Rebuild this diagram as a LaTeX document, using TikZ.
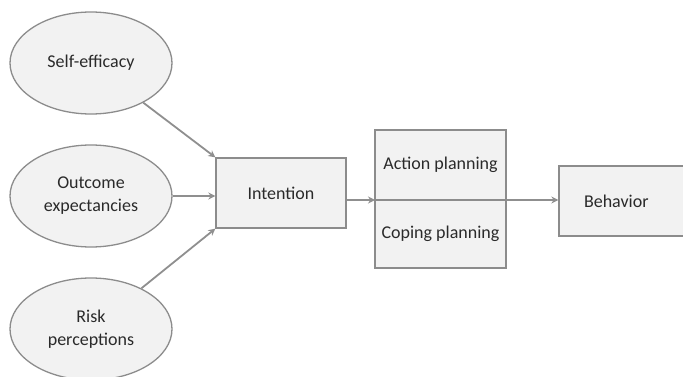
\documentclass[tikz,border=0pt]{standalone}
\usepackage{fontspec}
\setmainfont{Carlito}
\usetikzlibrary{shapes.geometric,arrows.meta}
\definecolor{boxfill}{HTML}{F2F2F2}
\definecolor{boxline}{HTML}{8C8C8C}
\definecolor{arrowline}{HTML}{8F8F8F}
\definecolor{labeltext}{HTML}{2A2A2A}
\tikzset{
  factor/.style={ellipse, draw=boxline, line width=1.3pt, fill=boxfill,
    minimum width=162pt, minimum height=102pt, inner sep=0pt,
    align=center, text=labeltext, font=\fontsize{18}{23}\selectfont},
  stage/.style={rectangle, draw=boxline, line width=1.3pt, fill=boxfill,
    inner sep=0pt, align=center, text=labeltext,
    font=\fontsize{18}{23}\selectfont},
  link/.style={draw=arrowline, line width=1.8pt,
    -{Stealth[length=7pt,width=7pt]}}
}
\begin{document}
\begin{tikzpicture}[x=1pt,y=-1pt]
  \useasboundingbox (0,0) rectangle (683,377);
  \begin{scope}
    \clip (0,0) rectangle (683,377);
    % predictors
    \node[factor] (se)  at (91,63)  {Self-efficacy};
    \node[factor] (oe)  at (91,196) {Outcome\\expectancies};
    \node[factor] (rp)  at (91,329) {Risk\\perceptions};
    % intention
    \node[stage, minimum width=130pt, minimum height=70pt] (int) at (281,193) {Intention};
    % planning block
    \node[stage, minimum width=131pt, minimum height=70pt] (ap) at (440.5,165) {Action planning};
    \node[stage, minimum width=131pt, minimum height=68pt] (cp) at (440.5,234) {Coping planning};
    \coordinate (plin)  at (375,200);
    \coordinate (plout) at (506,200);
    % behavior
    \node[stage, minimum width=136pt, minimum height=70pt, text width=124pt, align=left] (beh) at (627,201)
      {\hspace*{19pt}Behavior};
    % connectors
    \draw[link] (se) -- (int.north west);
    \draw[link] (oe) -- (oe -| int.west);
    \draw[link] (rp) -- (int.south west);
    \draw[link] (int.east |- plin) -- (plin);
    \draw[link] (plout) -- (beh.west |- plout);
  \end{scope}
\end{tikzpicture}
\end{document}
